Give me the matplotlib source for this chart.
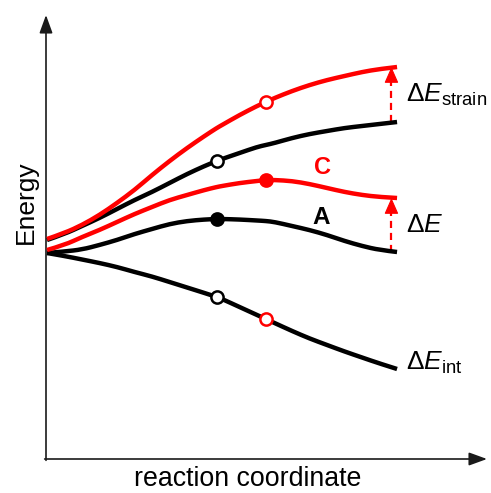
import matplotlib
matplotlib.use("Agg")
import matplotlib.pyplot as plt
from matplotlib.path import Path
from matplotlib.patches import PathPatch

plt.rcParams['font.family'] = ['Liberation Sans', 'DejaVu Sans']
plt.rcParams['mathtext.fontset'] = 'custom'
plt.rcParams['mathtext.rm'] = 'Liberation Sans'
plt.rcParams['mathtext.it'] = 'Liberation Sans:italic'
plt.rcParams['mathtext.bf'] = 'Liberation Sans:bold'

# Reaction coordinate (% of path); 48.5 and 62.5 are the TS positions of A and C
rc = [0, 5, 10, 15, 20, 25, 30, 35, 40, 45, 48.5, 50, 55, 60, 62.5, 65,
      70, 75, 80, 85, 90, 95, 100]
ts_A = 48.5
ts_C = 62.5

# Energies (arbitrary units)
strain_C = [1.4, 2.0, 2.8, 3.8, 5.0, 6.3, 7.8, 9.2, 10.5, 11.7, 12.5, 12.8,
            13.8, 14.7, 15.1, 15.5, 16.2, 16.8, 17.3, 17.7, 18.1, 18.4, 18.6]
strain_A = [1.3, 1.9, 2.7, 3.5, 4.4, 5.3, 6.1, 7.0, 7.9, 8.7, 9.2, 9.4,
            10.0, 10.6, 10.8, 11.0, 11.5, 11.9, 12.2, 12.5, 12.7, 12.9, 13.1]
total_C = [0.3, 0.8, 1.6, 2.3, 3.1, 3.9, 4.6, 5.3, 5.8, 6.3, 6.6, 6.7,
           7.0, 7.2, 7.3, 7.3, 7.2, 6.9, 6.5, 6.1, 5.8, 5.6, 5.5]
total_A = [0.0, 0.15, 0.35, 0.8, 1.3, 1.9, 2.4, 2.9, 3.2, 3.35, 3.4, 3.4,
           3.35, 3.25, 3.2, 3.1, 2.7, 2.3, 1.8, 1.2, 0.7, 0.3, 0.1]
interaction = [0.0, -0.3, -0.65, -1.0, -1.4, -1.9, -2.35, -2.9, -3.45, -4.0,
               -4.4, -4.6, -5.4, -6.2, -6.6, -7.0, -7.8, -8.55, -9.2, -9.85,
               -10.45, -11.05, -11.6]

RED = '#ff0000'
BLACK = '#000000'
LW = 3.2
MS = 8.8

fig = plt.figure(figsize=(4.91, 4.93), dpi=100)
ax = fig.add_axes([46 / 491, 34 / 493, 441 / 491, 444 / 493])
ax.set_xlim(-0.29, 125.7)
ax.set_ylim(-20.6, 23.8)
ax.axis('off')

# Axes with arrow heads
arrow_kw = dict(arrowstyle='-|>,head_length=0.55,head_width=0.2', lw=1.2,
                color='#1a1a1a', shrinkA=0, shrinkB=0, mutation_scale=20)
ax.annotate('', xy=(0, 1), xytext=(0, -0.003), xycoords='axes fraction',
            arrowprops=arrow_kw, annotation_clip=False)
ax.annotate('', xy=(1, 0), xytext=(-0.003, 0), xycoords='axes fraction',
            arrowprops=arrow_kw, annotation_clip=False)


def smooth_curve(xs, ys, color, z):
    """Draw the profile as a chain of quadratic Bezier segments that use the
    sampled points as control points."""
    pts = list(zip(xs, ys))
    verts = [pts[0]]
    codes = [Path.MOVETO]
    n = len(pts)
    for i in range(1, n - 1):
        ctrl = pts[i]
        if i == n - 2:
            end = pts[-1]
        else:
            end = ((pts[i][0] + pts[i + 1][0]) / 2, (pts[i][1] + pts[i + 1][1]) / 2)
        verts += [ctrl, end]
        codes += [Path.CURVE3, Path.CURVE3]
    patch = PathPatch(Path(verts, codes), facecolor='none', edgecolor=color,
                      lw=LW, capstyle='butt', joinstyle='round', zorder=z)
    ax.add_patch(patch)


smooth_curve(rc, interaction, BLACK, 3)
smooth_curve(rc, total_A, BLACK, 3)
smooth_curve(rc, strain_A, BLACK, 3)
smooth_curve(rc, total_C, RED, 4)
smooth_curve(rc, strain_C, RED, 4)

iA = rc.index(ts_A)
iC = rc.index(ts_C)


def marker(x, y, color, filled):
    ax.plot([x], [y], 'o', ms=MS, mec=color, mew=1.8,
            mfc=color if filled else 'white', zorder=6)


marker(ts_A, strain_A[iA], BLACK, False)
marker(ts_A, total_A[iA], BLACK, True)
marker(ts_A, interaction[iA], BLACK, False)
marker(ts_C, strain_C[iC], RED, False)
marker(ts_C, total_C[iC], RED, True)
marker(ts_C, interaction[iC], RED, False)

# Dashed difference arrows at the product end
x_arr = 98.4


def diff_arrow(y0, y1):
    head = 1.1
    ax.plot([x_arr, x_arr], [y0, y1 - head], color=RED, lw=1.6,
            ls=(0, (3.2, 2.2)), zorder=2)
    ax.annotate('', xy=(x_arr, y1), xytext=(x_arr, y1 - head - 0.05),
                arrowprops=dict(arrowstyle='-|>,head_length=0.5,head_width=0.22',
                                lw=0.8, color=RED, shrinkA=0, shrinkB=0,
                                mutation_scale=20), zorder=2)


diff_arrow(strain_A[-1], strain_C[-1])
diff_arrow(total_A[-1], total_C[-1])

# Labels
x_lab = 102.6
ax.text(x_lab, 15.1, r'$\Delta E_{\mathrm{strain}}$', fontsize=19,
        ha='left', va='baseline')
ax.text(x_lab, 2.1, r'$\Delta E$', fontsize=19, ha='left', va='baseline')
ax.text(x_lab, -11.7, r'$\Delta E_{\mathrm{int}}$', fontsize=19,
        ha='left', va='baseline')

ax.text(78.6, 8.6, 'C', color=RED, fontsize=17, fontweight='bold',
        ha='center', va='center')
ax.text(78.3, 3.5, 'A', color=BLACK, fontsize=17.5, fontweight='bold',
        ha='center', va='center')

fig.text(248 / 491, 0.5 / 493, 'reaction coordinate', fontsize=19.3,
         ha='center', va='bottom')
fig.text(33 / 491, (493 - 202.5) / 493, 'Energy', fontsize=19, rotation=90,
         rotation_mode='anchor', ha='center', va='baseline')

fig.savefig('out.png', dpi=100)
